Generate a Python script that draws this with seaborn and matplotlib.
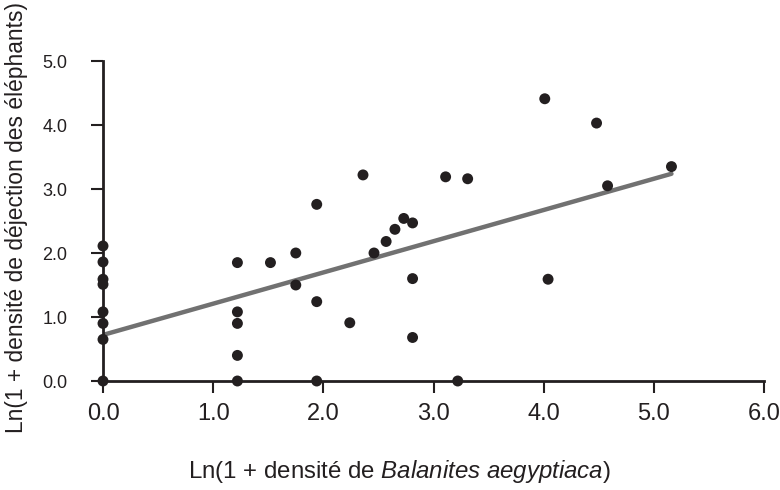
import matplotlib
matplotlib.use("Agg")
import matplotlib.pyplot as plt
import seaborn as sns
import numpy as np
import pandas as pd

# Data
balanites = [0, 0, 0, 0, 0, 0, 0, 0,
             1.22, 1.22, 1.22, 1.22, 1.22,
             1.52, 1.75, 1.75, 1.94, 1.94, 1.94,
             2.24, 2.36, 2.46, 2.57, 2.65, 2.73,
             2.81, 2.81, 2.81, 3.11, 3.22, 3.31,
             4.01, 4.04, 4.48, 4.58, 5.16]
dejections = [2.11, 1.86, 1.59, 1.51, 1.08, 0.90, 0.65, 0.0,
              1.85, 1.08, 0.90, 0.40, 0.0,
              1.85, 2.00, 1.50, 2.76, 1.24, 0.0,
              0.91, 3.22, 2.00, 2.18, 2.37, 2.54,
              2.47, 1.60, 0.68, 3.19, 0.0, 3.16,
              4.41, 1.59, 4.03, 3.05, 3.35]
fit_intercept = 0.72
fit_slope = 0.488
x_ticks = [0, 1, 2, 3, 4, 5, 6]
y_ticks = [0, 1, 2, 3, 4, 5]

df = pd.DataFrame({"x": balanites, "y": dejections})

sns.set_style("ticks")
plt.rcParams["font.family"] = ["Liberation Sans", "DejaVu Sans"]
plt.rcParams["mathtext.fontset"] = "custom"
plt.rcParams["mathtext.rm"] = "Liberation Sans"
plt.rcParams["mathtext.it"] = "Liberation Sans:italic"

fig = plt.figure(figsize=(7.8, 4.9), dpi=100)
ax = fig.add_axes([103 / 780, 109 / 490, 661 / 780, 320 / 490])

fit_x = np.array([min(balanites), max(balanites)])
fit_y = fit_intercept + fit_slope * fit_x
sns.lineplot(x=fit_x, y=fit_y, ax=ax, color="#717171", linewidth=3.2, zorder=2)

sns.scatterplot(data=df, x="x", y="y", ax=ax, color="#231f20", s=62,
                edgecolor="none", zorder=3, clip_on=False)

ax.set_xlim(0, 6)
ax.set_ylim(0, 5)
ax.set_xticks(x_ticks)
ax.set_yticks(y_ticks)
ax.set_xticklabels([f"{t:.1f}" for t in x_ticks])
ax.set_yticklabels([f"{t:.1f}" for t in y_ticks])

sns.despine(ax=ax)
for side in ["left", "bottom"]:
    ax.spines[side].set_linewidth(2.0)
    ax.spines[side].set_color("#231f20")
ax.tick_params(axis="both", length=8.6, width=1.5, color="#231f20",
               labelcolor="#231f20")
ax.tick_params(axis="x", labelsize=17, pad=7.5)
ax.tick_params(axis="y", labelsize=13, pad=17)

ax.set_xlabel(r"Ln(1 + densité de $\mathit{Balanites\ aegyptiaca}$)",
              fontsize=17.3, color="#231f20", va="center")
ax.set_ylabel("Ln(1 + densité de déjection des éléphants)",
              fontsize=16.4, color="#231f20", va="center")
ax.xaxis.set_label_coords(0.448, -0.284)
ax.yaxis.set_label_coords(-0.1316, 0.511)

fig.savefig("out.png", dpi=100)
